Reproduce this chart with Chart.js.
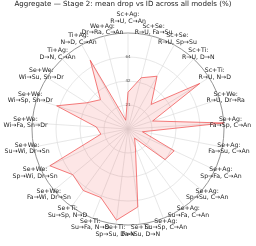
<!DOCTYPE html>
<html><head><meta charset="utf-8">
<script src="https://cdn.jsdelivr.net/npm/chart.js@4"></script>
<style>html,body{margin:0;padding:0;background:#fff}canvas{display:block}</style>
</head><body>
<canvas id="c" width="256" height="246"></canvas>
<script>
const TITLE = 'Aggregate — Stage 2: mean drop vs ID across all models (%)';
const CATEGORY_GROUPS = [
  'Sc+Ag:', 'Sc+Se:', 'Sc+Se:', 'Sc+Ti:', 'Sc+Ti:', 'Sc+We:',
  'Se+Ag:', 'Se+Ag:', 'Se+Ag:', 'Se+Ag:', 'Se+Ag:', 'Se+Ag:',
  'Se+Ti:', 'Se+Ti:', 'Se+Ti:', 'Se+Ti:',
  'Se+We:', 'Se+We:', 'Se+We:', 'Se+We:', 'Se+We:', 'Se+We:',
  'Ti+Ag:', 'Ti+Ag:', 'We+Ag:'
];
const CATEGORY_SHIFTS = [
  'R→U, C→An', 'R→U, Fa→Su', 'R→U, Sp→Su', 'R→U, D→N', 'R→U, N→D', 'R→U, Dr→Ra',
  'Fa→Sp, C→An', 'Fa→Su, C→An', 'Sp→Fa, C→An', 'Sp→Su, C→An', 'Su→Fa, C→An', 'Su→Sp, C→An',
  'Fa→Su, D→N', 'Sp→Su, D→N', 'Su→Fa, N→D', 'Su→Sp, N→D',
  'Fa→Wi, Dr→Sn', 'Sp→Wi, Dr→Sn', 'Su→Wi, Dr→Sn', 'Wi→Fa, Sn→Dr', 'Wi→Sp, Sn→Dr', 'Wi→Su, Sn→Dr',
  'D→N, C→An', 'N→D, C→An', 'Dr→Ra, C→An'
];
const MEAN_DROP = [
  32.5, 46.7, 53.2, 29.8, 75.1, 22.9,
  84.8, 13.0, 45.1, 42.5, 9.9, 17.8,
  69.4, 81.2, 65.1, 67.2,
  63.3, 76.3, 24.4, 28.0, 66.3, 43.2,
  35.5, 69.3, 8.0
];
const R_MAX = 84.8;
const TICK_VALUES = [0, 21.2, 42.4, 63.6, 84.8];
const TICK_LABELS = ['', '21', '42', '64', ''];

const labels = CATEGORY_GROUPS.map((g, i) => [g, CATEGORY_SHIFTS[i]]);

const overlay = {
  id: 'overlay',
  afterDraw(chart) {
    const ctx = chart.ctx;
    const s = chart.scales.r;
    const n = labels.length;
    ctx.save();
    ctx.fillStyle = '#222';
    ctx.textAlign = 'center';
    ctx.textBaseline = 'middle';
    ctx.font = '7.1px "DejaVu Sans"';
    ctx.fillText(TITLE, 123, 4.6);
    ctx.font = '6.2px "DejaVu Sans"';
    for (let i = 0; i < n; i++) {
      const p = s.getPointLabelPosition ? null : null;
      const ang = -Math.PI / 2 + i * 2 * Math.PI / n;
      const R = s.drawingArea * (i === 0 ? 1.16 : 1.07);
      const cx = s.xCenter + Math.cos(ang) * R;
      const cy = s.yCenter + Math.sin(ang) * R;
      ctx.fillText(labels[i][0], cx, cy - 3.3);
      ctx.fillText(labels[i][1], cx, cy + 3.3);
    }
    ctx.restore();
  }
};

new Chart(document.getElementById('c'), {
  type: 'radar',
  data: {
    labels: labels,
    datasets: [{
      data: MEAN_DROP,
      borderColor: 'rgba(240,80,80,0.75)',
      backgroundColor: 'rgba(240,60,60,0.13)',
      borderWidth: 1,
      pointRadius: 0,
      fill: true,
      tension: 0
    }]
  },
  options: {
    responsive: false,
    devicePixelRatio: 1,
    animation: false,
    layout: { padding: { left: 28, right: 28, top: 29, bottom: 17 } },
    plugins: { legend: { display: false }, tooltip: { enabled: false }, title: { display: false } },
    scales: {
      r: {
        min: 0,
        max: R_MAX,
        afterBuildTicks: (scale) => { scale.ticks = TICK_VALUES.map(v => ({ value: v })); },
        ticks: {
          showLabelBackdrop: false,
          color: '#555',
          font: { size: 4, family: 'DejaVu Sans' },
          callback: (v, i) => TICK_LABELS[i]
        },
        pointLabels: { display: false },
        grid: {
          circular: true,
          color: (c) => c.index === TICK_VALUES.length - 1 ? '#8a8a8a' : '#dcdcdc',
          lineWidth: (c) => c.index === TICK_VALUES.length - 1 ? 0.9 : 0.7
        },
        angleLines: { color: '#dcdcdc', lineWidth: 0.7 }
      }
    }
  },
  plugins: [overlay]
});
</script>
</body></html>
